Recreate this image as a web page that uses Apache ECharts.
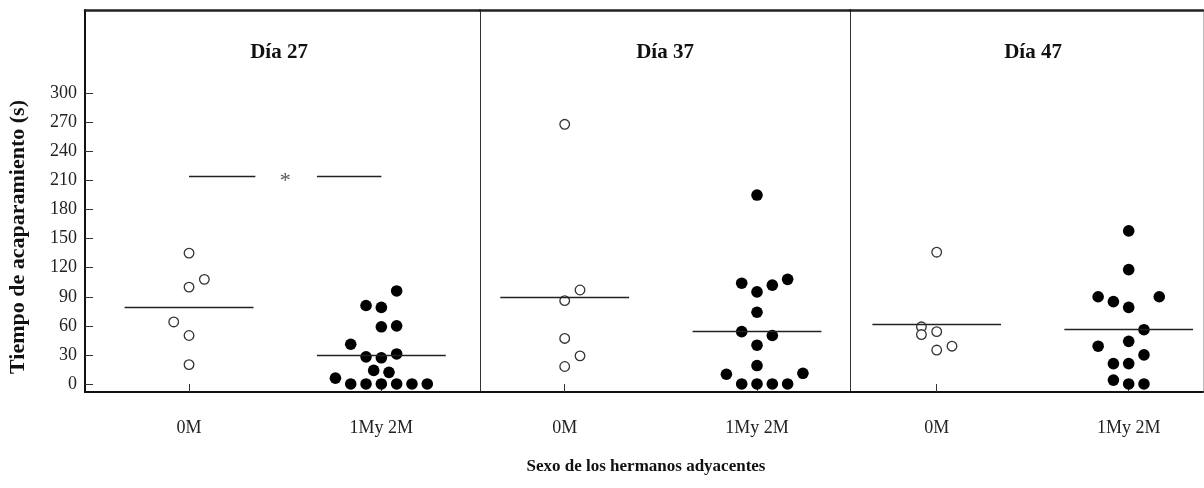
<!DOCTYPE html>
<html>
<head>
<meta charset="utf-8">
<script src="https://cdn.jsdelivr.net/npm/echarts@6/dist/echarts.min.js"></script>
<style>
  html, body { margin: 0; padding: 0; background: #fff; }
  #chart { width: 1204px; height: 488px; }
</style>
</head>
<body>
<div id="chart"></div>
<script>
// Groups on the x axis of each panel
const categories = ['0M', '1My 2M'];
const panelTitles = ['Día 27', 'Día 37', 'Día 47'];
const yTicks = [0, 30, 60, 90, 120, 150, 180, 210, 240, 270, 300];

// Hoarding time (s) per animal; *_col gives the swarm column of each dot
const d27_0M = [135, 108, 100, 64, 50, 20];
const d27_0M_col = [0, 1, 0, -1, 0, 0];
const d27_1M2M = [96, 81, 79, 59, 60, 41, 28, 27, 31, 14, 12, 6, 0, 0, 0, 0, 0, 0];
const d27_1M2M_col = [1, -1, 0, 0, 1, -2, -1, 0, 1, -0.5, 0.5, -3, -2, -1, 0, 1, 2, 3];

const d37_0M = [268, 97, 86, 47, 29, 18];
const d37_0M_col = [0, 1, 0, 0, 1, 0];
const d37_1M2M = [195, 108, 104, 102, 95, 74, 54, 50, 40, 19, 10, 11, 0, 0, 0, 0];
const d37_1M2M_col = [0, 2, -1, 1, 0, 0, -1, 1, 0, 0, -2, 3, -1, 0, 1, 2];

const d47_0M = [136, 59, 51, 54, 35, 39];
const d47_0M_col = [0, -1, -1, 0, 0, 1];
const d47_1M2M = [158, 118, 90, 90, 85, 79, 56, 39, 44, 30, 21, 21, 4, 0, 0];
const d47_1M2M_col = [0, 0, -2, 2, -1, 0, 1, -2, 0, 1, -1, 0, -1, 0, 1];

// Group mean lines [0M, 1My 2M] per panel
const meanLines = [[79.5, 29.5], [90, 54], [61.5, 56.3]];
// Significance marker between the groups of Día 27
const sigLevel = 214;
const sigLabel = '*';

// ---- layout ----
const FONT = 'Liberation Serif';
const SLOT = 0.0796;          // one swarm column, in axis units
const HALF_MEAN = 0.335;      // half length of a mean line
const panels = [
  { title: panelTitles[0], groups: [[d27_0M, d27_0M_col], [d27_1M2M, d27_1M2M_col]], means: meanLines[0], sig: true },
  { title: panelTitles[1], groups: [[d37_0M, d37_0M_col], [d37_1M2M, d37_1M2M_col]], means: meanLines[1] },
  { title: panelTitles[2], groups: [[d47_0M, d47_0M_col], [d47_1M2M, d47_1M2M_col]], means: meanLines[2] }
];
const gridBox = [
  { left: 85, right: 1204 - 480 },
  { left: 480, right: 1204 - 850 },
  { left: 850, right: 1 }
];
const xRanges = [[-0.541, 1.513], [-0.4405, 1.4836], [-0.4516, 1.387]];
const titleX = [274, 660, 1028];
const Y_MIN = -8.3, Y_MAX = 386;

const grid = [], xAxis = [], yAxis = [], series = [], title = [];

panels.forEach((p, i) => {
  grid.push({ left: gridBox[i].left, right: gridBox[i].right, top: 10, bottom: 96 });
  title.push({
    text: p.title, left: titleX[i], top: 37, textAlign: 'center',
    textStyle: { fontFamily: FONT, fontSize: 21, fontWeight: 'bold', color: '#111' }
  });
  // bottom axis with group labels
  xAxis.push({
    type: 'value', gridIndex: i, min: xRanges[i][0], max: xRanges[i][1], position: 'bottom',
    axisLine: { show: true, onZero: false, lineStyle: { color: '#111', width: 2 } },
    axisTick: { show: true, inside: true, length: 8, customValues: [0, 1], lineStyle: { color: '#333', width: 1 } },
    axisLabel: {
      show: true, customValues: [0, 1], margin: 27,
      formatter: v => categories[Math.round(v)],
      fontFamily: FONT, fontSize: 18, color: '#222'
    },
    splitLine: { show: false }
  });
  // top frame
  xAxis.push({
    type: 'value', gridIndex: i, min: xRanges[i][0], max: xRanges[i][1], position: 'top',
    axisLine: { show: true, onZero: false, lineStyle: { color: '#222', width: 2.5 } },
    axisTick: { show: false }, axisLabel: { show: false }, splitLine: { show: false }
  });
  yAxis.push({
    type: 'value', gridIndex: i, min: Y_MIN, max: Y_MAX, position: 'left',
    axisLine: { show: true, onZero: false, lineStyle: { color: i === 0 ? '#111' : '#333', width: i === 0 ? 2 : 1 } },
    axisTick: { show: i === 0, inside: true, length: 8, customValues: yTicks, lineStyle: { color: '#333', width: 1 } },
    axisLabel: { show: i === 0, customValues: yTicks, margin: 8, fontFamily: FONT, fontSize: 18, color: '#222' },
    splitLine: { show: false }
  });
  const xBottom = xAxis.length - 2, yIdx = yAxis.length - 1;

  p.groups.forEach(([vals, cols], g) => {
    const open = g === 0;
    const s = {
      type: 'scatter', xAxisIndex: xBottom, yAxisIndex: yIdx,
      data: vals.map((v, k) => [g + cols[k] * SLOT, v]),
      symbol: 'circle',
      symbolSize: open ? 9.6 : 11.6,
      itemStyle: open
        ? { color: '#fff', borderColor: '#333', borderWidth: 1.3, opacity: 1 }
        : { color: '#000', borderColor: '#000', borderWidth: 0, opacity: 1 },
      z: 3,
      silent: true,
      markLine: {
        silent: true, symbol: ['none', 'none'], animation: false,
        label: { show: false },
        lineStyle: { color: '#222', width: 1.3, type: 'solid', opacity: 1 },
        data: [[
          { coord: [g - HALF_MEAN, p.means[g]] },
          { coord: [g + HALF_MEAN, p.means[g]] }
        ]]
      }
    };
    if (p.sig && g === 0) {
      // bracket halves with the asterisk between them
      s.markLine.data.push(
        [{ coord: [0, sigLevel] }, { coord: [0.345, sigLevel] }],
        [{ coord: [0.665, sigLevel] }, { coord: [1, sigLevel] }]
      );
      s.markPoint = {
        silent: true, animation: false,
        symbol: 'circle', symbolSize: 0,
        label: {
          show: true, formatter: sigLabel, position: 'inside', offset: [0, 5],
          fontFamily: FONT, fontSize: 22, color: '#555'
        },
        data: [{ coord: [0.5, sigLevel] }]
      };
    }
    series.push(s);
  });
});

// right frame edge
yAxis.push({
  type: 'value', gridIndex: 2, min: Y_MIN, max: Y_MAX, position: 'right',
  axisLine: { show: true, onZero: false, lineStyle: { color: '#bbb', width: 1 } },
  axisTick: { show: false }, axisLabel: { show: false }, splitLine: { show: false }
});

const chart = echarts.init(document.getElementById('chart'), null, { renderer: 'canvas' });
chart.setOption({
  animation: false,
  backgroundColor: '#fff',
  title,
  grid, xAxis, yAxis, series,
  graphic: [
    {
      type: 'text', x: 18, y: 237, rotation: Math.PI / 2,
      style: {
        text: 'Tiempo de acaparamiento (s)', align: 'center', verticalAlign: 'middle',
        font: 'bold 22px "Liberation Serif"', fill: '#111'
      }
    },
    {
      type: 'text', x: 646, y: 467,
      style: {
        text: 'Sexo de los hermanos adyacentes', align: 'center', verticalAlign: 'middle',
        font: 'bold 17px "Liberation Serif"', fill: '#111'
      }
    }
  ]
});
</script>
</body>
</html>
